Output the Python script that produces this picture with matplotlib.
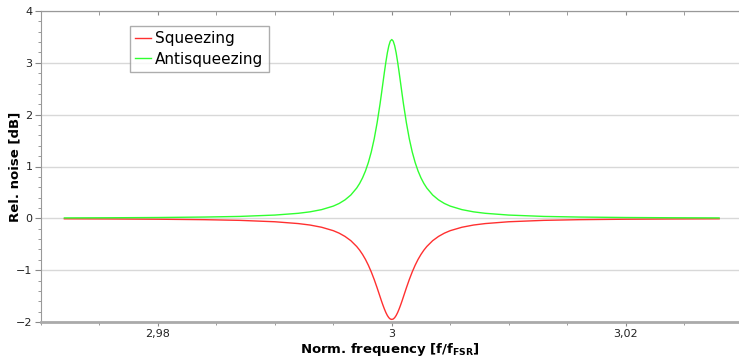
import matplotlib
matplotlib.use("Agg")
import matplotlib.pyplot as plt
from matplotlib.ticker import MultipleLocator

freq = [2.972, 2.976, 2.980, 2.984, 2.987, 2.990, 2.992, 2.993, 2.994, 2.995, 2.9955,
        2.996, 2.9965, 2.997, 2.99725, 2.9975, 2.99775, 2.998, 2.99825, 2.9985,
        2.99875, 2.999, 2.999125, 2.99925, 2.999375, 2.9995, 2.999625, 2.99975, 2.999875,
        3.000,
        3.000125, 3.00025, 3.000375, 3.0005, 3.000625, 3.00075, 3.000875, 3.001,
        3.00125, 3.0015, 3.00175, 3.002, 3.00225, 3.0025, 3.00275, 3.003, 3.0035,
        3.004, 3.0045, 3.005, 3.006, 3.007, 3.008, 3.010, 3.013, 3.016, 3.020, 3.024, 3.028]

antisqueezing = [0.008, 0.011, 0.016, 0.025, 0.037, 0.063, 0.097, 0.125, 0.168, 0.236, 0.287,
                 0.356, 0.450, 0.584, 0.672, 0.780, 0.913, 1.078, 1.282, 1.535,
                 1.846, 2.21, 2.413, 2.62, 2.826, 3.02, 3.194, 3.33, 3.419,
                 3.45,
                 3.419, 3.33, 3.194, 3.02, 2.826, 2.62, 2.413, 2.21,
                 1.846, 1.535, 1.282, 1.078, 0.913, 0.780, 0.672, 0.584, 0.450,
                 0.356, 0.287, 0.236, 0.168, 0.125, 0.097, 0.063, 0.037, 0.025, 0.016, 0.011, 0.008]

squeezing = [-0.009, -0.012, -0.017, -0.026, -0.039, -0.066, -0.101, -0.129, -0.172, -0.238, -0.286,
             -0.349, -0.431, -0.543, -0.613, -0.696, -0.792, -0.905, -1.035, -1.181,
             -1.342, -1.512, -1.597, -1.677, -1.752, -1.819, -1.875, -1.917, -1.943,
             -1.95,
             -1.943, -1.917, -1.875, -1.819, -1.752, -1.677, -1.597, -1.512,
             -1.342, -1.181, -1.035, -0.905, -0.792, -0.696, -0.613, -0.543, -0.431,
             -0.349, -0.286, -0.238, -0.172, -0.129, -0.101, -0.066, -0.039, -0.026, -0.017, -0.012, -0.009]

xticks = [2.98, 3.00, 3.02]
xtick_labels = ["2,98", "3", "3,02"]
yticks = [-2, -1, 0, 1, 2, 3, 4]
ytick_labels = ["\u22122", "\u22121", "0", "1", "2", "3", "4"]

plt.rcParams['font.family'] = ['DejaVu Sans']

fig = plt.figure(figsize=(7.39, 3.6), dpi=100)
ax = fig.add_axes([41/739, 38/360, 1 - 41/739, (322-11)/360])

ax.plot(freq, squeezing, color="#ff3030", lw=1.0, label="Squeezing", zorder=3)
ax.plot(freq, antisqueezing, color="#30ff30", lw=1.0, label="Antisqueezing", zorder=4)

ax.set_xlim(2.97, 3.0297)
ax.set_ylim(-2, 4)

ax.set_xticks(xticks)
ax.set_xticklabels(xtick_labels, fontsize=8, color="#222222")
ax.set_yticks(yticks)
ax.set_yticklabels(ytick_labels, fontsize=8, color="#222222")
ax.xaxis.set_minor_locator(MultipleLocator(0.005))
ax.yaxis.set_minor_locator(MultipleLocator(0.2))

ax.tick_params(axis='x', which='major', direction='out', length=3, color="#888888", pad=2)
ax.tick_params(axis='x', which='minor', direction='out', length=2, color="#888888")
ax.tick_params(axis='y', which='major', direction='out', length=4, color="#888888", pad=2)
ax.tick_params(axis='y', which='minor', direction='out', length=2, color="#888888")

# top axis with inward ticks
top = ax.secondary_xaxis('top')
top.set_xticks(xticks)
top.xaxis.set_minor_locator(MultipleLocator(0.005))
top.tick_params(axis='x', which='both', direction='in', length=3, color="#888888", labeltop=False)
top.spines['top'].set_color("#999999")

ax.grid(axis='y', which='major', color="#d8d8d8", lw=1.0)
ax.set_axisbelow(True)

ax.spines['left'].set_color("#999999")
ax.spines['top'].set_color("#999999")
ax.spines['bottom'].set_color("#aaaaaa")
ax.spines['bottom'].set_linewidth(2.0)
ax.spines['right'].set_visible(False)

ax.set_xlabel("Norm. frequency [f/f$_{\\mathbf{FSR}}$]", fontsize=9.5, fontweight='bold', va='center')
ax.xaxis.set_label_coords(0.5, -(350 - 322) / 311)
ax.set_ylabel("Rel. noise [dB]", fontsize=9.5, fontweight='bold', va='center')
ax.yaxis.set_label_coords(-(41 - 15) / 698, 0.5)

leg = ax.legend(loc='upper left', bbox_to_anchor=(89/698, 1 - 15/311), fontsize=11,
                frameon=True, fancybox=False, handlelength=1.0, handletextpad=0.3,
                borderpad=0.35, labelspacing=0.35, borderaxespad=0)
leg.get_frame().set_edgecolor("#999999")
leg.get_frame().set_linewidth(1.0)

fig.savefig("out.png", dpi=100)
